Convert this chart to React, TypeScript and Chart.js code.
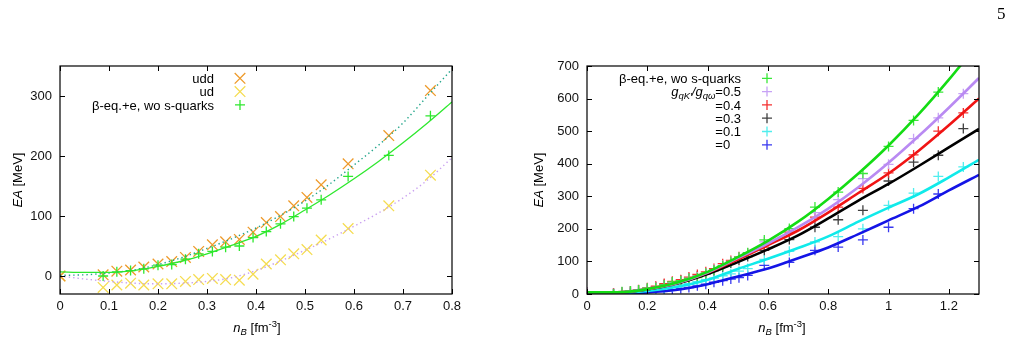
import React, { useEffect, useRef } from "react";
import { Chart, registerables } from "chart.js";

Chart.register(...registerables);

// ---------------- data ----------------
const densities = [0, 0.088, 0.116, 0.144, 0.171, 0.2, 0.228, 0.256, 0.283, 0.311, 0.338, 0.366, 0.394, 0.421, 0.45, 0.477, 0.504, 0.533, 0.588, 0.671, 0.756, 0.833, 0.915, 1.0, 1.083, 1.165, 1.248];

// left panel
const uddEA = [0, 2, 8, 10, 15, 20, 24, 31, 41, 52, 57, 61, 73, 89, 99, 117, 131, 152, 187, 234, 309];
const udEA = [0, -19, -15, -12, -15, -13, -13, -9, -6, -4, -6, -7, 3, 20, 27, 37, 44, 60, 79, 117, 168];
const betaEA = [null, 0, 7, 9, 12, 18, 19, 28, 37, 41, 48, 50, 64, 74, 87, 99, 113, 127, 166, 201, 267, 313, 370, 453, 533, 620, null];

const fitDensLeft = [0, 0.05, 0.1, 0.15, 0.2, 0.25, 0.3, 0.35, 0.4, 0.45, 0.5, 0.55, 0.6, 0.65, 0.7, 0.75, 0.8];
const betaFitLeft = [7, 6, 6, 9, 16, 25, 37, 51, 66, 86, 110, 135, 162, 191, 222, 255, 290];
const uddFit = [1, 2, 5, 10, 19, 31, 46, 62, 80, 101, 125, 153, 185, 218, 255, 300, 345];
const udFit = [0, -5, -9, -12, -13, -12, -9, -3, 9, 25, 43, 62, 83, 105, 130, 160, 197];

// right panel (g_qK'/g_qω ratios)
const ratio05EA = [5, 1, 6, 9, 12, 17, 20, 27, 35, 41, 48, 52, 63, 75, 88, 100, 113, 125, 160, 196, 250, 290, 354, 398, 477, 541, 615];
const ratio04EA = [4, 2, 6, 9, 13, 19, 24, 32, 39, 44, 52, 60, 68, 78, 93, 103, 114, 124, 144, 190, 236, 267, 324, 372, 427, 500, 556];
const ratio03EA = [5, 2, 5, 8, 12, 17, 22, 29, 36, 42, 48, 55, 62, 72, 84, 95, 104, 115, 134, 167, 205, 228, 257, 347, 405, 426, 508];
const ratio01EA = [3, 1, 3, 5, 7, 10, 13, 17, 22, 27, 32, 38, 44, 49, 56, 62, 70, 78, 106, 131, 160, 176, 200, 272, 310, 361, 390];
const ratio00EA = [2, 0, 1, 2, 4, 6, 8, 10, 13, 17, 20, 25, 30, 36, 41, 46, 50, 57, 88, 97, 134, 144, 166, 205, 262, 307, null];

const fitDensRight = [0, 0.1, 0.2, 0.3, 0.4, 0.5, 0.6, 0.7, 0.8, 0.9, 1.0, 1.1, 1.2, 1.3];
const fitBeta = [5, 5, 15, 35, 68, 113, 163, 222, 292, 370, 456, 552, 658, 772];
const fit05 = [5, 5, 15, 34, 66, 110, 155, 205, 262, 328, 403, 485, 572, 663];
const fit04 = [5, 5, 15, 34, 65, 106, 150, 195, 250, 310, 370, 440, 518, 600];
const fit03 = [5, 5, 14, 32, 61, 98, 137, 180, 232, 287, 338, 393, 450, 507];
const fit01 = [4, 4, 9, 22, 44, 77, 108, 141, 177, 222, 265, 307, 358, 412];
const fit00 = [3, 3, 5, 13, 30, 54, 78, 110, 143, 184, 226, 268, 318, 366];

const leftXTicks = [0, 0.1, 0.2, 0.3, 0.4, 0.5, 0.6, 0.7, 0.8];
const leftYTicks = [0, 100, 200, 300];
const rightXTicks = [0, 0.2, 0.4, 0.6, 0.8, 1.0, 1.2];
const rightYTicks = [0, 100, 200, 300, 400, 500, 600, 700];

const leftLabels = ["udd", "ud", "β-eq.+e, wo s-quarks"];
const ratioLabels = ["=0.5", "=0.4", "=0.3", "=0.1", "=0"];

// ---------------- helpers ----------------
const FONT = '"Liberation Sans", Arial, Helvetica, sans-serif';

type Part = { t: string; it?: boolean; s?: number; dy?: number };

function setFont(ctx: CanvasRenderingContext2D, p: Part, base: number) {
  ctx.font = `${p.it ? "italic " : ""}${p.s ?? base}px ${FONT}`;
}
function richWidth(ctx: CanvasRenderingContext2D, parts: Part[], base: number) {
  let w = 0;
  for (const p of parts) {
    setFont(ctx, p, base);
    w += ctx.measureText(p.t).width;
  }
  return w;
}
function drawRich(ctx: CanvasRenderingContext2D, parts: Part[], x: number, y: number, align: string, base = 13) {
  const w = richWidth(ctx, parts, base);
  let cx = align === "left" ? x : align === "right" ? x - w : x - w / 2;
  ctx.textAlign = "left";
  ctx.textBaseline = "alphabetic";
  for (const p of parts) {
    setFont(ctx, p, base);
    ctx.fillText(p.t, cx, y + (p.dy ?? 0));
    cx += ctx.measureText(p.t).width;
  }
}

function pts(xs: number[], ys: (number | null)[]) {
  const out: { x: number; y: number }[] = [];
  xs.forEach((x, i) => {
    const y = ys[i];
    if (y !== null && y !== undefined) out.push({ x, y });
  });
  return out;
}

function drawMarker(ctx: CanvasRenderingContext2D, kind: string, x: number, y: number, color: string) {
  ctx.save();
  ctx.strokeStyle = color;
  ctx.lineWidth = 1.3;
  ctx.beginPath();
  if (kind === "x") {
    const r = 5.3;
    ctx.moveTo(x - r, y - r);
    ctx.lineTo(x + r, y + r);
    ctx.moveTo(x + r, y - r);
    ctx.lineTo(x - r, y + r);
  } else {
    const r = 5;
    ctx.moveTo(x - r, y);
    ctx.lineTo(x + r, y);
    ctx.moveTo(x, y - r);
    ctx.lineTo(x, y + r);
  }
  ctx.stroke();
  ctx.restore();
}

const fmt = (v: number) => String(+Number(v).toFixed(2));

type LegendRow = { parts: Part[]; color: string; marker: string; leftAlignLike?: string };

function decorPlugin(cfg: {
  xTicks: number[];
  yTicks: number[];
  legend: LegendRow[];
  textX: number;
  markX: number;
  rowY0: number;
  rowDy: number;
  yTitleX: number;
  xTitleX: number;
}) {
  return {
    id: "decor",
    afterDraw(chart: any) {
      const { ctx, chartArea: a, scales } = chart;
      ctx.save();
      // frame
      ctx.strokeStyle = "#000";
      ctx.lineWidth = 1.2;
      ctx.strokeRect(a.left, a.top, a.right - a.left, a.bottom - a.top);
      // inward ticks on all sides
      ctx.lineWidth = 1;
      const tl = 5;
      ctx.beginPath();
      for (const v of cfg.xTicks) {
        const px = Math.round(scales.x.getPixelForValue(v)) + 0.5;
        ctx.moveTo(px, a.bottom);
        ctx.lineTo(px, a.bottom - tl);
        ctx.moveTo(px, a.top);
        ctx.lineTo(px, a.top + tl);
      }
      for (const v of cfg.yTicks) {
        const py = Math.round(scales.y.getPixelForValue(v)) + 0.5;
        ctx.moveTo(a.left, py);
        ctx.lineTo(a.left + tl, py);
        ctx.moveTo(a.right, py);
        ctx.lineTo(a.right - tl, py);
      }
      ctx.stroke();

      // legend
      ctx.fillStyle = "#000";
      cfg.legend.forEach((row, i) => {
        const cy = cfg.rowY0 + i * cfg.rowDy;
        if (row.leftAlignLike) {
          const w = richWidth(ctx, [{ t: row.leftAlignLike }], 13);
          drawRich(ctx, row.parts, cfg.textX - w, cy + 4.6, "left");
        } else {
          drawRich(ctx, row.parts, cfg.textX, cy + 4.6, "right");
        }
        drawMarker(ctx, row.marker, cfg.markX, cy, row.color);
      });

      // axis titles
      ctx.fillStyle = "#000";
      const xParts: Part[] = [
        { t: "n", it: true },
        { t: "B", it: true, s: 9.5, dy: 3 },
        { t: " [fm" },
        { t: "-3", s: 9.5, dy: -5 },
        { t: "]" },
      ];
      drawRich(ctx, xParts, cfg.xTitleX, 332, "center");
      ctx.save();
      const cyMid = (a.top + a.bottom) / 2;
      ctx.translate(cfg.yTitleX, cyMid);
      ctx.rotate(-Math.PI / 2);
      drawRich(ctx, [{ t: "EA", it: true }, { t: " [MeV]" }], 0, 4.6, "center");
      ctx.restore();
      ctx.restore();
    },
  };
}

function scaleOpts(min: number, max: number, ticks: number[], isX: boolean, size: number) {
  return {
    type: "linear",
    min,
    max,
    grid: { display: false, drawTicks: false },
    border: { display: false },
    ticks: {
      color: "#111",
      font: { family: FONT, size: 13 },
      padding: isX ? 5 : 8,
      autoSkip: false,
      maxRotation: 0,
      callback: (v: number) => fmt(v),
    },
    afterBuildTicks: (s: any) => {
      s.ticks = ticks.map((v) => ({ value: v }));
    },
    afterFit: (s: any) => {
      if (isX) s.height = size;
      else s.width = size;
    },
  };
}

function lineDs(xs: number[], ys: number[], color: string, width: number, dash: number[] = []) {
  return {
    data: pts(xs, ys),
    showLine: true,
    pointRadius: 0,
    borderColor: color,
    backgroundColor: color,
    borderWidth: width,
    borderDash: dash,
    cubicInterpolationMode: "monotone",
    fill: false,
  };
}
function markDs(xs: number[], ys: (number | null)[], color: string, style: string, r: number) {
  return {
    data: pts(xs, ys),
    showLine: false,
    pointStyle: style,
    pointRadius: r,
    borderColor: color,
    backgroundColor: color,
    pointBorderWidth: 1.3,
    borderWidth: 1.3,
  };
}

const C = {
  udd: "#EE9A2A",
  ud: "#F5DC50",
  beta: "#2EE82E",
  uddFit: "#22A58A",
  udFit: "#C9A0F0",
  gL: "#14DC14",
  pL: "#B98AF2",
  rL: "#F01414",
  kL: "#000000",
  cL: "#10EAEA",
  bL: "#1414E6",
  gM: "#3AE83A",
  pM: "#C7A2F5",
  rM: "#F53030",
  kM: "#404040",
  cM: "#50EEEE",
  bM: "#3838F0",
};

export default function App() {
  const leftRef = useRef<HTMLCanvasElement>(null);
  const rightRef = useRef<HTMLCanvasElement>(null);

  useEffect(() => {
    const leftX = densities.slice(0, uddEA.length);
    const left = new Chart(leftRef.current as HTMLCanvasElement, {
      type: "scatter",
      data: {
        datasets: [
          lineDs(fitDensLeft, betaFitLeft, C.beta, 1.3),
          lineDs(fitDensLeft, uddFit, C.uddFit, 1.4, [1.4, 3]),
          lineDs(fitDensLeft, udFit, C.udFit, 1.4, [1.4, 3]),
          markDs(densities, betaEA, C.beta, "cross", 5),
          markDs(leftX, uddEA, C.udd, "crossRot", 7.5),
          markDs(leftX, udEA, C.ud, "crossRot", 7.5),
        ] as any,
      },
      options: {
        animation: false,
        responsive: false,
        devicePixelRatio: 1,
        events: [],
        layout: { padding: { left: 0, right: 48, top: 66, bottom: 0 } },
        plugins: { legend: { display: false }, tooltip: { enabled: false } },
        scales: {
          x: scaleOpts(0, 0.8, leftXTicks, true, 47),
          y: scaleOpts(-30, 350, leftYTicks, false, 60),
        } as any,
      },
      plugins: [
        decorPlugin({
          xTicks: leftXTicks,
          yTicks: leftYTicks,
          legend: [
            { parts: [{ t: leftLabels[0] }], color: C.udd, marker: "x" },
            { parts: [{ t: leftLabels[1] }], color: C.ud, marker: "x" },
            { parts: [{ t: leftLabels[2] }], color: C.beta, marker: "plus" },
          ],
          textX: 214,
          markX: 240,
          rowY0: 78.3,
          rowDy: 13.3,
          yTitleX: 17,
          xTitleX: 257,
        }),
      ],
    } as any);

    const right = new Chart(rightRef.current as HTMLCanvasElement, {
      type: "scatter",
      data: {
        datasets: [
          lineDs(fitDensRight, fitBeta, C.gL, 2.6),
          lineDs(fitDensRight, fit05, C.pL, 2.6),
          lineDs(fitDensRight, fit04, C.rL, 2.6),
          lineDs(fitDensRight, fit03, C.kL, 2.6),
          lineDs(fitDensRight, fit01, C.cL, 2.6),
          lineDs(fitDensRight, fit00, C.bL, 2.6),
          markDs(densities, betaEA, C.gM, "cross", 5),
          markDs(densities, ratio05EA, C.pM, "cross", 5),
          markDs(densities, ratio04EA, C.rM, "cross", 5),
          markDs(densities, ratio03EA, C.kM, "cross", 5),
          markDs(densities, ratio01EA, C.cM, "cross", 5),
          markDs(densities, ratio00EA, C.bM, "cross", 5),
        ] as any,
      },
      options: {
        animation: false,
        responsive: false,
        devicePixelRatio: 1,
        events: [],
        layout: { padding: { left: 0, right: 35, top: 66, bottom: 0 } },
        plugins: { legend: { display: false }, tooltip: { enabled: false } },
        scales: {
          x: scaleOpts(0, 1.3, rightXTicks, true, 47),
          y: scaleOpts(0, 700, rightYTicks, false, 77),
        } as any,
      },
      plugins: [
        decorPlugin({
          xTicks: rightXTicks,
          yTicks: rightYTicks,
          legend: [
            { parts: [{ t: leftLabels[2] }], color: C.gM, marker: "plus" },
            {
              parts: [
                { t: "g", it: true },
                { t: "qK'", it: true, s: 9.5, dy: 3 },
                { t: "/", it: true },
                { t: "g", it: true },
                { t: "qω", it: true, s: 9.5, dy: 3 },
                { t: ratioLabels[0] },
              ],
              color: C.pM,
              marker: "plus",
            },
            { parts: [{ t: ratioLabels[1] }], color: C.rM, marker: "plus" },
            { parts: [{ t: ratioLabels[2] }], color: C.kM, marker: "plus" },
            { parts: [{ t: ratioLabels[3] }], color: C.cM, marker: "plus" },
            { parts: [{ t: ratioLabels[4] }], color: C.bM, marker: "plus", leftAlignLike: ratioLabels[3] },
          ],
          textX: 231,
          markX: 257,
          rowY0: 78.3,
          rowDy: 13.3,
          yTitleX: 28,
          xTitleX: 272,
        }),
      ],
    } as any);

    return () => {
      left.destroy();
      right.destroy();
    };
  }, []);

  return (
    <div style={{ position: "fixed", left: 0, top: 0, width: 1014, height: 341, background: "#fff", overflow: "hidden" }}>
      <canvas ref={leftRef} width={500} height={341} style={{ position: "absolute", left: 0, top: 0, width: 500, height: 341 }} />
      <canvas ref={rightRef} width={504} height={341} style={{ position: "absolute", left: 510, top: 0, width: 504, height: 341 }} />
      <div
        style={{
          position: "absolute",
          left: 997,
          top: 5,
          fontFamily: '"Liberation Serif", "DejaVu Serif", serif',
          fontSize: 17,
          lineHeight: "17px",
          color: "#000",
        }}
      >
        5
      </div>
    </div>
  );
}
